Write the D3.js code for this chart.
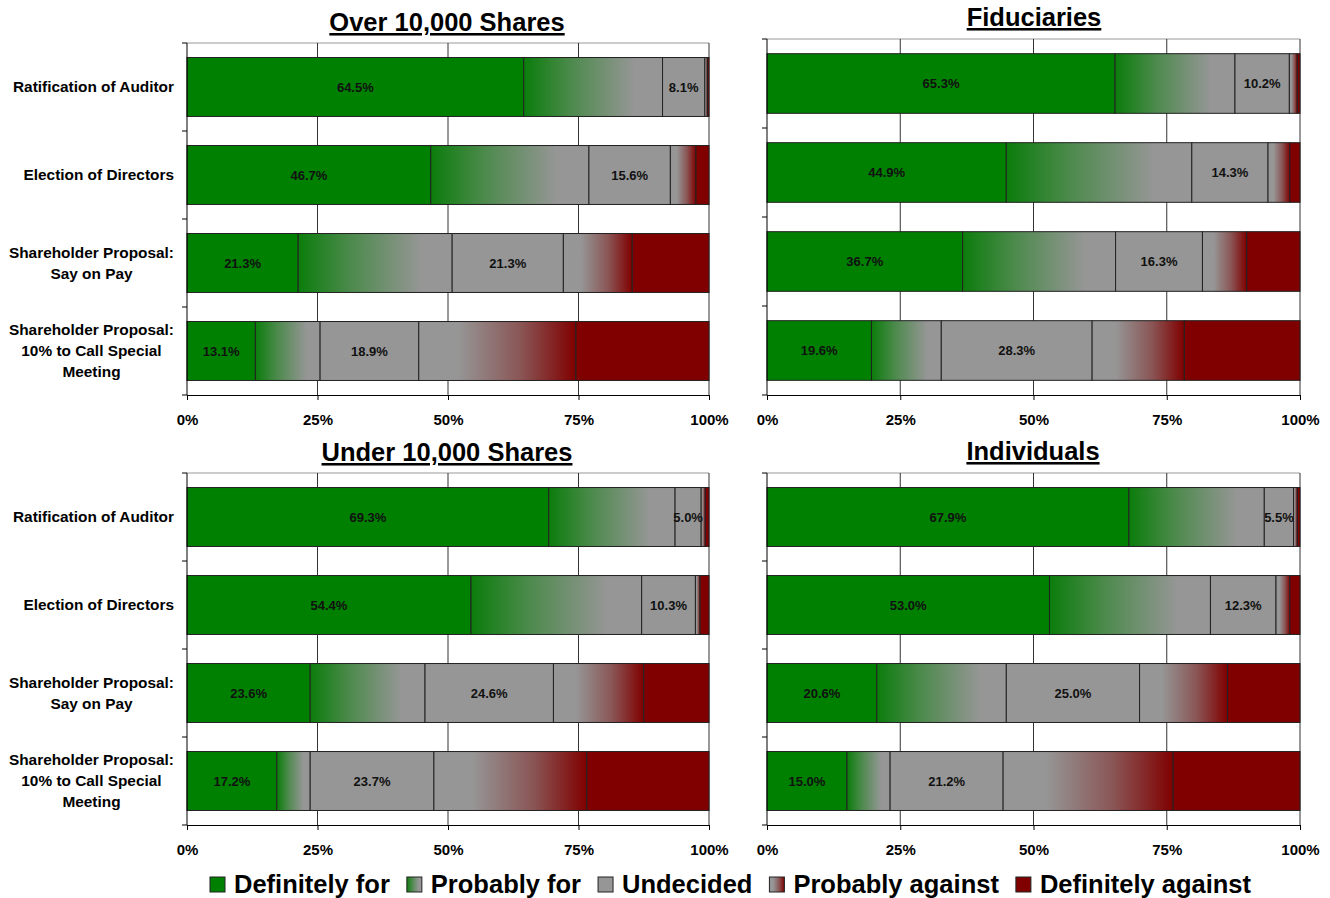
<!DOCTYPE html>
<meta charset="utf-8">
<script src="https://d3js.org/d3.v7.min.js"></script>
<style>
  body { margin: 0; background: #fff; }
  text { font-family: "Liberation Sans", Arial, sans-serif; font-weight: bold; }
</style>
<div id="chart"></div>
<script>

// data
var responses = ["Definitely for", "Probably for", "Undecided", "Probably against", "Definitely against"];
var categories = [
  ["Ratification of Auditor"],
  ["Election of Directors"],
  ["Shareholder Proposal:", "Say on Pay"],
  ["Shareholder Proposal:", "10% to Call Special", "Meeting"]
];
var ticks = [0, 25, 50, 75, 100];

var over10k    = [[64.5, 26.6, 8.1, 0.5, 0.3], [46.7, 30.3, 15.6, 4.9, 2.5], [21.3, 29.5, 21.3, 13.2, 14.7], [13.1, 12.4, 18.9, 30.1, 25.5]];
var fiduciary  = [[65.3, 22.5, 10.2, 1.5, 0.5], [44.9, 34.8, 14.3, 4.1, 1.9], [36.7, 28.7, 16.3, 8.3, 10.0], [19.6, 13.1, 28.3, 17.3, 21.7]];
var under10k   = [[69.3, 24.2, 5.0, 0.8, 0.7], [54.4, 32.7, 10.3, 0.9, 1.7], [23.6, 22.0, 24.6, 17.3, 12.5], [17.2, 6.4, 23.7, 29.3, 23.4]];
var individual = [[67.9, 25.4, 5.5, 0.7, 0.5], [53.0, 30.2, 12.3, 2.6, 1.9], [20.6, 24.3, 25.0, 16.5, 13.6], [15.0, 8.1, 21.2, 31.9, 23.8]];

var titles = ["Over 10,000 Shares", "Fiduciaries", "Under 10,000 Shares", "Individuals"];
var panelData = [over10k, fiduciary, under10k, individual];
var labelled = [0, 2];   // which segments carry a value label

var W = 1330, H = 898;
var svg = d3.select("#chart").append("svg")
    .attr("width", W)
    .attr("height", H);

// gradients for the "probably" segments
var defs = svg.append("defs");
var g1 = defs.append("linearGradient").attr("id", "probFor");
g1.append("stop").attr("offset", "0").attr("stop-color", "#0b7d0b");
g1.append("stop").attr("offset", "0.35").attr("stop-color", "#4e8a4e");
g1.append("stop").attr("offset", "0.8").attr("stop-color", "#969696");
g1.append("stop").attr("offset", "1").attr("stop-color", "#969696");
var g2 = defs.append("linearGradient").attr("id", "probAgainst");
g2.append("stop").attr("offset", "0").attr("stop-color", "#969696");
g2.append("stop").attr("offset", "0.25").attr("stop-color", "#969696");
g2.append("stop").attr("offset", "0.65").attr("stop-color", "#8a5555");
g2.append("stop").attr("offset", "1").attr("stop-color", "#800000");

var fills = ["#008000", "url(#probFor)", "#969696", "url(#probAgainst)", "#800000"];

// panel positions
var panels = [
  {x0: 187, x1: 709, y0: 43, y1: 395, tx: 447, ty: 31},
  {x0: 767, x1: 1300, y0: 39, y1: 395, tx: 1034, ty: 26},
  {x0: 187, x1: 709, y0: 473, y1: 825, tx: 447, ty: 461},
  {x0: 767, x1: 1300, y0: 473, y1: 825, tx: 1033, ty: 460}
];

panels.forEach(function(p, i) {
  var x = d3.scaleLinear().domain([0, 100]).range([p.x0, p.x1]);
  var y = d3.scaleBand().domain(d3.range(categories.length)).range([p.y0, p.y1])
      .paddingInner(0.33).paddingOuter(0.165);

  var g = svg.append("g");

  // title
  g.append("text")
      .attr("x", p.tx).attr("y", p.ty)
      .attr("text-anchor", "middle")
      .style("font-size", "25.5px")
      .style("text-decoration", "underline")
      .text(titles[i]);

  // top border
  g.append("line")
      .attr("x1", p.x0).attr("x2", p.x1).attr("y1", p.y0).attr("y2", p.y0)
      .attr("stroke", "#999").attr("stroke-width", 1);

  // gridlines
  g.selectAll(".grid").data(ticks.slice(1)).enter().append("line")
      .attr("x1", function(d) { return x(d); }).attr("x2", function(d) { return x(d); })
      .attr("y1", p.y0).attr("y2", p.y1)
      .attr("stroke", "#333").attr("stroke-width", 1);

  // stacked bars
  var rows = panelData[i].map(function(vals, r) {
    var acc = 0;
    return vals.map(function(v, k) {
      var s = {row: r, k: k, v: v, a: acc, b: acc + v};
      acc += v;
      return s;
    });
  });
  var segs = [].concat.apply([], rows);

  g.selectAll(".seg").data(segs).enter().append("rect")
      .attr("x", function(d) { return x(d.a); })
      .attr("y", function(d) { return y(d.row); })
      .attr("width", function(d) { return x(d.b) - x(d.a); })
      .attr("height", y.bandwidth())
      .attr("fill", function(d) { return fills[d.k]; })
      .attr("stroke", "#222")
      .attr("stroke-width", 1);

  g.selectAll(".val").data(segs.filter(function(d) { return labelled.indexOf(d.k) >= 0; }))
    .enter().append("text")
      .attr("x", function(d) { return (x(d.a) + x(d.b)) / 2; })
      .attr("y", function(d) { return y(d.row) + y.bandwidth() / 2 + 4.5; })
      .attr("text-anchor", "middle")
      .style("font-size", "13px")
      .attr("fill", "#111")
      .text(function(d) { return d.v.toFixed(1) + "%"; });

  // bottom axis
  var xAxis = g.append("g")
      .attr("transform", "translate(0," + p.y1 + ")")
      .call(d3.axisBottom(x).tickValues(ticks).tickSize(5).tickFormat(function(d) { return d + "%"; }));
  xAxis.select(".domain").attr("stroke", "#000");
  xAxis.selectAll("text").style("font-size", "15px").attr("fill", "#000").attr("dy", "1.45em");

  // left axis with ticks between categories
  g.append("line")
      .attr("x1", p.x0).attr("x2", p.x0).attr("y1", p.y0).attr("y2", p.y1)
      .attr("stroke", "#000");
  g.selectAll(".ytick").data(d3.range(categories.length + 1)).enter().append("line")
      .attr("x1", p.x0 - 5).attr("x2", p.x0)
      .attr("y1", function(d) { return p.y0 + d * y.step(); })
      .attr("y2", function(d) { return p.y0 + d * y.step(); })
      .attr("stroke", "#000");

  // category labels (left column only)
  if (p.x0 < 300) {
    categories.forEach(function(lines, r) {
      var cy = y(r) + y.bandwidth() / 2;
      var lh = 21;
      var t = g.append("g");
      var texts = lines.map(function(s, j) {
        return t.append("text")
            .attr("y", cy + (j - (lines.length - 1) / 2) * lh + 5)
            .style("font-size", "15.4px")
            .attr("text-anchor", "middle")
            .text(s);
      });
      var maxw = d3.max(texts, function(tt) { return tt.node().getComputedTextLength(); });
      var cx = 174 - maxw / 2;
      texts.forEach(function(tt) { tt.attr("x", cx); });
    });
  }
});

// legend
var legend = svg.append("g");
var lx = 210;
responses.forEach(function(r, k) {
  legend.append("rect")
      .attr("x", lx).attr("y", 877)
      .attr("width", 15).attr("height", 15)
      .attr("fill", fills[k]).attr("stroke", "#222");
  var t = legend.append("text")
      .attr("x", lx + 24).attr("y", 893)
      .style("font-size", "25.5px")
      .text(r);
  lx += 24 + t.node().getComputedTextLength() + 17;
});

</script>
